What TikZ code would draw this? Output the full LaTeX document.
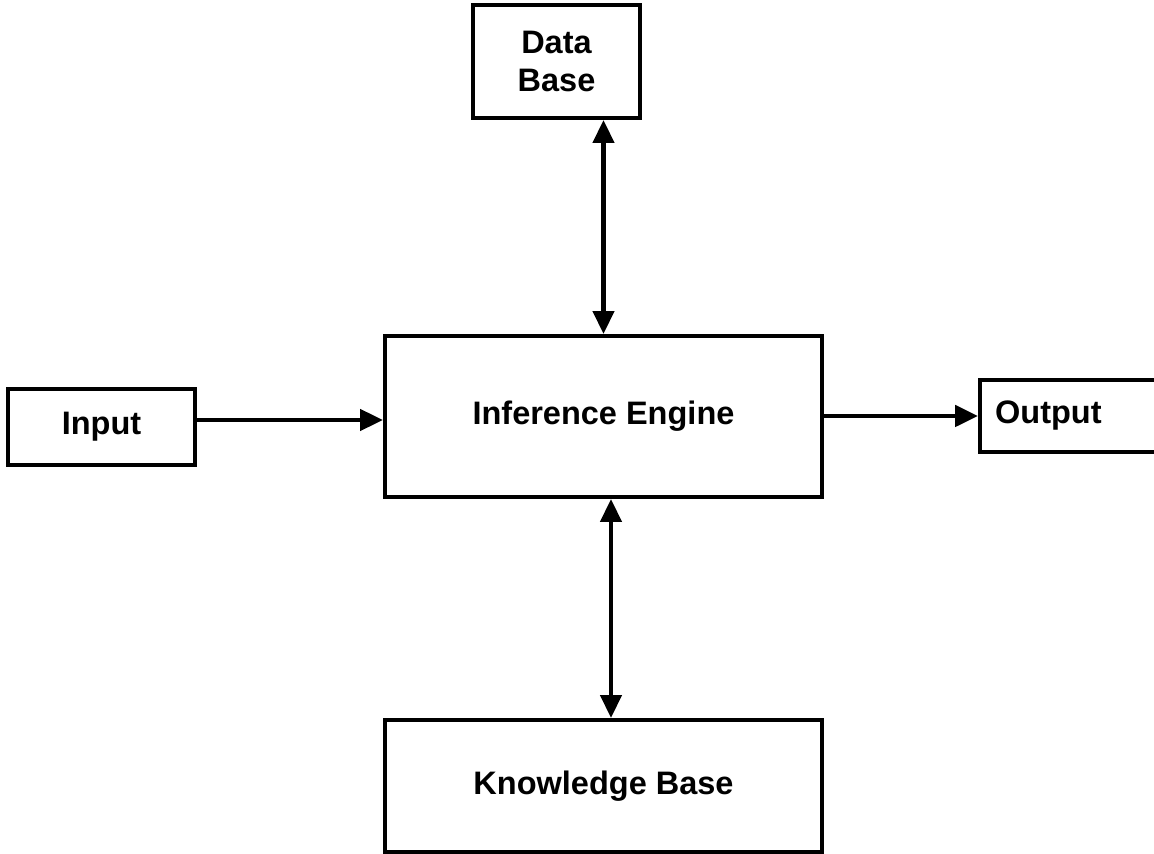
\documentclass[tikz,border=0pt]{standalone}
\usepackage{fontspec}
\setmainfont{Liberation Sans}
\usetikzlibrary{arrows.meta}
\begin{document}
\begin{tikzpicture}[x=0.02cm, y=-0.02cm,
    box/.style={draw, line width=2.4pt, inner sep=0pt, font=\bfseries\fontsize{18.5}{22}\selectfont},
    link/.style={line width=2.4pt, {Triangle[length=13pt, width=12pt]}-{Triangle[length=13pt, width=12pt]}},
    feed/.style={line width=2.4pt, -{Triangle[length=13pt, width=12pt]}}]
    \useasboundingbox (0,0) rectangle (1154,854);
    \node[box, minimum width=3.34cm, minimum height=2.26cm, align=center] (db) at (556.5,61.5) {Data\\Base};
    \node[box, minimum width=8.74cm, minimum height=3.22cm] (ie) at (603.5,416.5) {Inference Engine};
    \node[box, minimum width=3.74cm, minimum height=1.52cm] (input) at (101.5,427) {Input};
    \node[box, minimum height=1.44cm, text width=3.64cm, align=left, inner xsep=0.3cm, anchor=west] (output) at (978,416) {Output};
    \node[box, minimum width=8.74cm, minimum height=2.64cm] (kb) at (603.5,786) {Knowledge Base};
    \draw[link] (db.south -| ie.north) -- (ie.north);
    \draw[feed] ([yshift=0.14cm]input.east) -- ([yshift=0.14cm]input.east -| ie.west);
    \draw[feed] (output.west -| ie.east) -- (output.west);
    \draw[link] ([xshift=0.15cm]ie.south) -- ([xshift=0.15cm]kb.north);
\end{tikzpicture}
\end{document}
